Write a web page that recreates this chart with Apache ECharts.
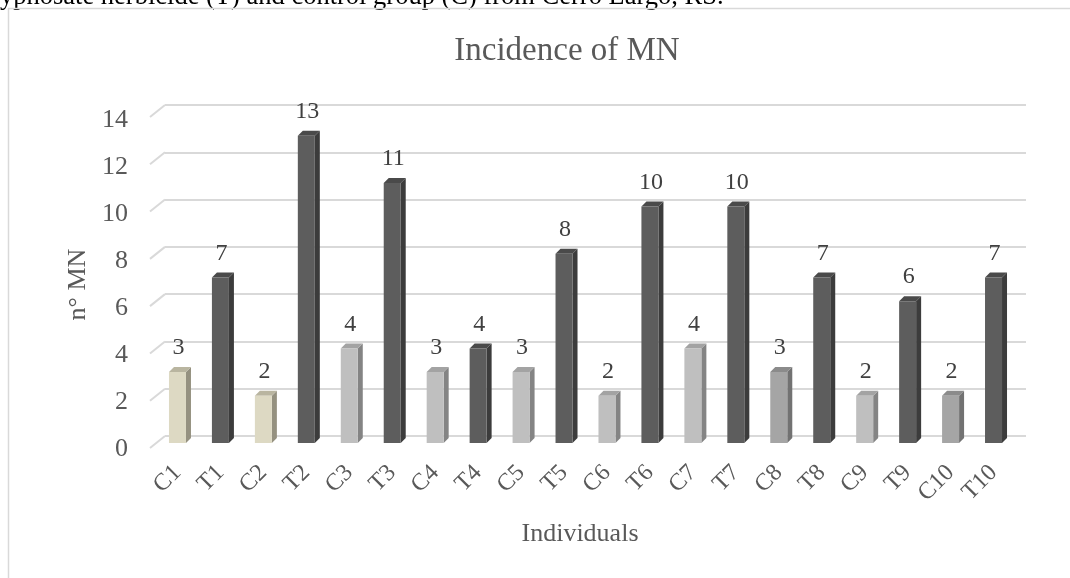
<!DOCTYPE html>
<html>
<head>
<meta charset="utf-8">
<script src="https://cdn.jsdelivr.net/npm/echarts@6/dist/echarts.min.js"></script>
<style>
  html, body { margin: 0; padding: 0; background: #fff; }
  #chart { width: 1070px; height: 578px; }
</style>
</head>
<body>
<div id="chart"></div>
<script>
// Micronucleus counts per individual: controls (C) and glyphosate-exposed (T)
const categories = ['C1', 'T1', 'C2', 'T2', 'C3', 'T3', 'C4', 'T4', 'C5', 'T5',
                    'C6', 'T6', 'C7', 'T7', 'C8', 'T8', 'C9', 'T9', 'C10', 'T10'];
const values = [3, 7, 2, 13, 4, 11, 3, 4, 3, 8, 2, 10, 4, 10, 3, 7, 2, 6, 2, 7];
const yTicks = [0, 2, 4, 6, 8, 10, 12, 14];

const FONT = '"Liberation Serif", "Times New Roman", serif';

// Face / side / top shades of the pseudo-3D columns
const palette = {
  beige: { face: '#ddd9c3', side: '#959180', top: '#b9b5a0' },
  dark:  { face: '#5d5d5d', side: '#3c3c3c', top: '#4a4a4a' },
  light: { face: '#bfbfbf', side: '#848484', top: '#a3a3a3' },
  mid:   { face: '#a5a5a5', side: '#727272', top: '#8b8b8b' }
};
function shadeOf(name) {
  if (name[0] === 'T') return 'dark';
  if (name === 'C1' || name === 'C2') return 'beige';
  if (name === 'C8' || name === 'C10') return 'mid';
  return 'light';
}

const chart = echarts.init(document.getElementById('chart'), null, { renderer: 'canvas' });

const DEPTH_X = 5, DEPTH_Y = -5, BAR_W = 17;

function renderColumn(params, api) {
  const i = api.value(0);
  const v = api.value(1);
  const base = api.coord([i, 0]);
  const top = api.coord([i, v]);
  const x0 = base[0] - BAR_W / 2;
  const x1 = x0 + BAR_W;
  const pal = palette[shadeOf(categories[i])];
  return {
    type: 'group',
    children: [
      { type: 'polygon',
        shape: { points: [[x1, top[1]], [x1 + DEPTH_X, top[1] + DEPTH_Y], [x1 + DEPTH_X, base[1] + DEPTH_Y], [x1, base[1]]] },
        style: { fill: pal.side } },
      { type: 'polygon',
        shape: { points: [[x0, top[1]], [x0 + DEPTH_X, top[1] + DEPTH_Y], [x1 + DEPTH_X, top[1] + DEPTH_Y], [x1, top[1]]] },
        style: { fill: pal.top } },
      { type: 'rect',
        shape: { x: x0, y: top[1], width: BAR_W, height: base[1] - top[1] },
        style: { fill: pal.face } },
      { type: 'text', x: base[0] + 1, y: top[1] - 24,
        style: { text: String(v), font: '24px ' + FONT, fill: '#404040', align: 'center', verticalAlign: 'middle' } }
    ]
  };
}

function renderWallStub(params, api) {
  const p = api.coord([0, api.value(1)]);
  const x = params.coordSys.x;
  return {
    type: 'line',
    shape: { x1: x - 15, y1: p[1] + 12, x2: x, y2: p[1] },
    style: { stroke: '#d9d9d9', lineWidth: 2 }
  };
}

const option = {
  backgroundColor: '#ffffff',
  animation: false,
  title: {
    text: 'Incidence of MN',
    left: 562, top: 30, textAlign: 'center',
    textStyle: { fontFamily: FONT, fontSize: 33, fontWeight: 'normal', color: '#595959' }
  },
  graphic: [
    { type: 'text', left: 0, top: -16,
      style: { text: 'yphosate herbicide (T) and control group (C) from Cerro Largo, RS.',
               font: '26.5px ' + FONT, fill: '#000' } },
    { type: 'line', shape: { x1: 8.5, y1: 8, x2: 8.5, y2: 578 }, style: { stroke: '#d9d9d9', lineWidth: 1.5 } },
    { type: 'line', shape: { x1: 8, y1: 8.5, x2: 1070, y2: 8.5 }, style: { stroke: '#d9d9d9', lineWidth: 1.5 } },
    { type: 'text', x: 580, y: 534,
      style: { text: 'Individuals', font: '26px ' + FONT, fill: '#595959', align: 'center', verticalAlign: 'middle' } }
  ],
  grid: [
    // front plane: the columns
    { left: 156, right: 55, top: 112, bottom: 135 },
    // back wall: gridlines
    { left: 165, right: 44, top: 105, bottom: 142 },
    // value labels along the left
    { left: 156, right: 55, top: 120, bottom: 129 }
  ],
  xAxis: [
    { gridIndex: 0, type: 'category', data: categories, boundaryGap: true,
      axisLine: { show: false }, axisTick: { show: false },
      axisLabel: { rotate: 45, margin: 26, fontFamily: FONT, fontSize: 24, color: '#595959', interval: 0 } },
    { gridIndex: 1, type: 'value', min: 0, max: 1, show: false },
    { gridIndex: 2, type: 'value', min: 0, max: 1, show: false }
  ],
  yAxis: [
    { gridIndex: 0, type: 'value', min: 0, max: 14, interval: 2, show: false },
    { gridIndex: 1, type: 'value', min: 0, max: 14, interval: 2,
      axisLine: { show: false }, axisTick: { show: false }, axisLabel: { show: false },
      splitLine: { show: true, lineStyle: { color: '#d9d9d9', width: 2 } } },
    { gridIndex: 2, type: 'value', min: 0, max: 14, interval: 2,
      axisLine: { show: false }, axisTick: { show: false }, splitLine: { show: false },
      axisLabel: { margin: 28, fontFamily: FONT, fontSize: 26, color: '#595959' },
      name: 'n° MN', nameLocation: 'middle', nameRotate: 90, nameGap: 62,
      nameTextStyle: { fontFamily: FONT, fontSize: 26, color: '#595959' } }
  ],
  series: [
    { type: 'custom', xAxisIndex: 1, yAxisIndex: 1, renderItem: renderWallStub,
      data: yTicks.map(t => [0, t]), silent: true, z: 1 },
    { type: 'custom', xAxisIndex: 0, yAxisIndex: 0, renderItem: renderColumn,
      encode: { x: 0, y: 1 }, data: values.map((v, i) => [i, v]), z: 3 }
  ]
};

chart.setOption(option);
</script>
</body>
</html>
